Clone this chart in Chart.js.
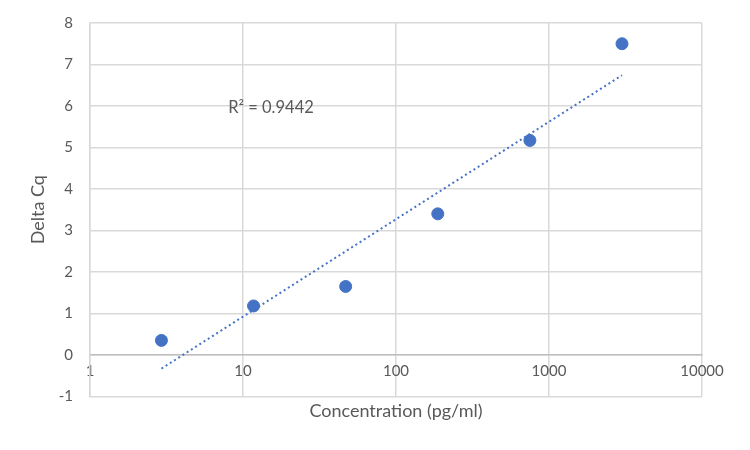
<!DOCTYPE html>
<html>
<head>
<meta charset="utf-8">
<script src="https://cdn.jsdelivr.net/npm/chart.js@4"></script>
<style>
  html, body { margin: 0; padding: 0; background: #fff; }
  #wrap { width: 750px; height: 450px; }
</style>
</head>
<body>
<div id="wrap"><canvas id="chart"></canvas></div>
<script>
// data
const concentration = [2.93, 11.72, 46.88, 187.5, 750, 3000];
const deltaCq = [0.35, 1.18, 1.65, 3.40, 5.17, 7.50];
// log trendline ends (straight on a log axis)
const trendX = [2.93, 3000];
const trendY = [-0.33, 6.74];
const xTicks = [1, 10, 100, 1000, 10000];
const r2Label = 'R\u00B2 = 0.9442';

const txt = '#595959';
const grid = '#d9d9d9';
const blue = '#4472C4';
const fam = 'Lato, "Open Sans", sans-serif';

// puts the R² text next to the trendline
const r2Plugin = {
  id: 'r2',
  afterDatasetsDraw(chart) {
    const ctx = chart.ctx;
    const x = chart.scales.x.getPixelForValue(8);
    const y = chart.scales.y.getPixelForValue(5.96);
    ctx.save();
    ctx.font = '16.5px ' + fam;
    ctx.fillStyle = txt;
    ctx.textAlign = 'left';
    ctx.textBaseline = 'middle';
    ctx.fillText(r2Label, x, y);
    ctx.restore();
  }
};

new Chart(document.getElementById('chart'), {
  type: 'scatter',
  data: {
    datasets: [{
      label: 'Delta Cq',
      data: concentration.map((c, i) => ({ x: c, y: deltaCq[i] })),
      backgroundColor: blue,
      borderColor: blue,
      pointRadius: 6,
      pointHoverRadius: 6
    }, {
      label: 'Trend',
      type: 'line',
      data: trendX.map((c, i) => ({ x: c, y: trendY[i] })),
      borderColor: blue,
      borderWidth: 2,
      borderDash: [2, 3],
      pointRadius: 0,
      fill: false
    }]
  },
  options: {
    responsive: true,
    maintainAspectRatio: false,
    animation: false,
    layout: { padding: { left: 0, right: 48, top: 23, bottom: 28 } },
    plugins: {
      legend: { display: false },
      tooltip: { enabled: false },
      title: {
        display: true,
        position: 'bottom',
        fullSize: false,
        text: 'Concentration (pg/ml)',
        color: txt,
        font: { family: fam, size: 18, weight: 'normal' },
        padding: { top: 4, bottom: 0 }
      }
    },
    scales: {
      x: {
        type: 'logarithmic',
        min: 1,
        max: 10000,
        position: { y: 0 },
        afterBuildTicks: s => { s.ticks = xTicks.map(v => ({ value: v })); },
        ticks: {
          color: txt,
          font: { family: fam, size: 15 },
          padding: 7,
          maxRotation: 0,
          autoSkip: false,
          callback: v => String(v)
        },
        grid: { color: grid, lineWidth: 1.5, drawTicks: false },
        border: { color: '#bfbfbf', width: 1.5 }
      },
      y: {
        min: -1,
        max: 8,
        afterFit: s => { s.width = 90; s.paddingTop = 0; s.paddingBottom = 0; },
        ticks: {
          stepSize: 1,
          color: txt,
          font: { family: fam, size: 15 },
          padding: 17
        },
        grid: { color: grid, lineWidth: 1.5, drawTicks: false },
        border: { color: grid, width: 1.5 },
        title: {
          display: true,
          text: 'Delta Cq',
          color: txt,
          font: { family: fam, size: 18 },
          padding: { top: 27, bottom: 0 }
        }
      }
    }
  },
  plugins: [r2Plugin]
});
</script>
</body>
</html>
